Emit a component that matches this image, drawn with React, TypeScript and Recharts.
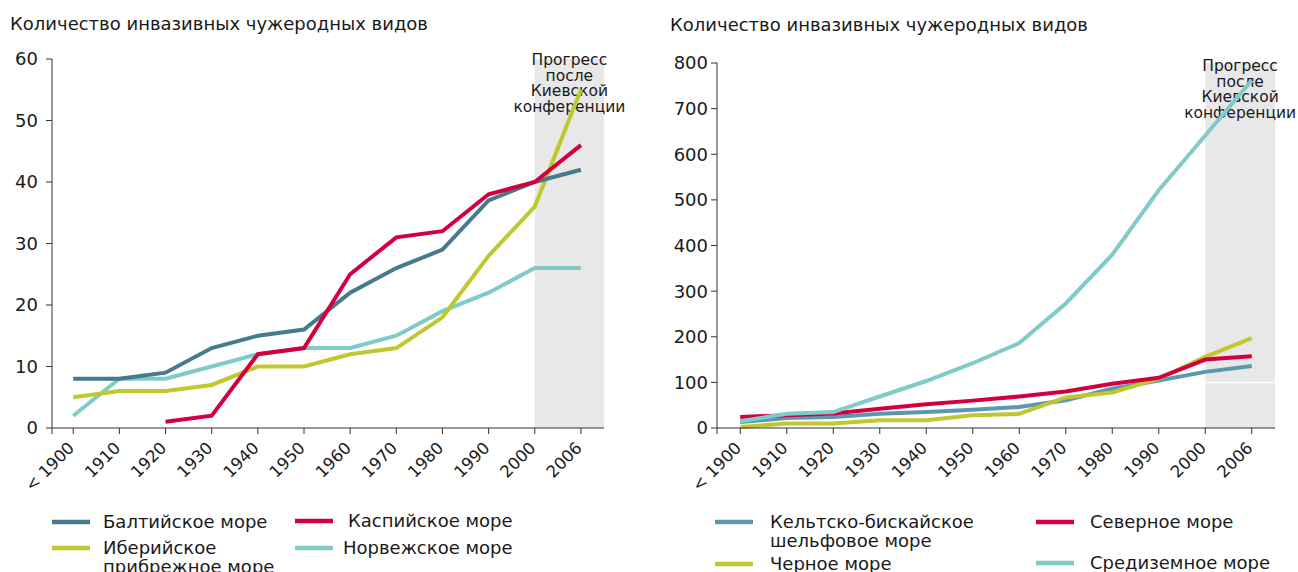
import { LineChart, Line, XAxis, YAxis, ReferenceArea, ReferenceLine } from 'recharts'

const YEARS = ['< 1900', '1910', '1920', '1930', '1940', '1950', '1960', '1970', '1980', '1990', '2000', '2006']

// left panel
const BALTIC = [8, 8, 9, 13, 15, 16, 22, 26, 29, 37, 40, 42]
const CASPIAN = [null, null, 1, 2, 12, 13, 25, 31, 32, 38, 40, 46]
const IBERIAN = [5, 6, 6, 7, 10, 10, 12, 13, 18, 28, 36, 55]
const NORWEGIAN = [2, 8, 8, 10, 12, 13, 13, 15, 19, 22, 26, 26]
const LEFT_TICKS = [0, 10, 20, 30, 40, 50, 60]

// right panel
const CELTIC = [13, 22, 24, 31, 35, 40, 46, 61, 86, 104, 123, 136]
const NORTH = [24, 28, 32, 42, 52, 60, 69, 80, 97, 110, 150, 157]
const BLACK = [2, 10, 10, 17, 17, 28, 31, 67, 78, 108, 156, 197]
const MEDITERRANEAN = [15, 31, 35, 69, 103, 142, 186, 273, 380, 521, 641, 762]
const RIGHT_TICKS = [0, 100, 200, 300, 400, 500, 600, 700, 800]

const TITLE = 'Количество инвазивных чужеродных видов'
const NOTE = ['Прогресс', 'после', 'Киевской', 'конференции']
const LEFT_NAMES = ['Балтийское море', 'Каспийское море', 'Иберийское прибрежное море', 'Норвежское море']
const RIGHT_NAMES = ['Кельтско-бискайское шельфовое море', 'Северное море', 'Черное море', 'Средиземное море']

const FONT = '"DejaVu Sans", Verdana, sans-serif'
const INK = '#1a1a1a'
const AXIS = '#333333'
const C = {
  baltic: '#477a8c',
  red: '#d2003f',
  green: '#bfc92e',
  aqua: '#80cbc7',
  celtic: '#5b98b0',
  shade: '#e8e8e8',
}

const leftData = YEARS.map((_, i) => ({
  idx: i,
  baltic: BALTIC[i],
  caspian: CASPIAN[i],
  iberian: IBERIAN[i],
  norwegian: NORWEGIAN[i],
}))

const rightData = YEARS.map((_, i) => ({
  idx: i,
  celtic: CELTIC[i],
  north: NORTH[i],
  black: BLACK[i],
  mediterranean: MEDITERRANEAN[i],
}))

const YearTick = ({ x, y, payload }: any) => {
  const label = YEARS[payload.value]
  if (label === undefined) return null
  const ex = x + 2
  const ey = y + 13
  return (
    <text
      x={ex}
      y={ey}
      transform={`rotate(-45 ${ex} ${ey})`}
      textAnchor="end"
      fontSize={16.5}
      fontFamily={FONT}
      fill={INK}
    >
      {label}
    </text>
  )
}

const Note = (offset: number) => (props: any) => {
  const vb = props.viewBox || {}
  const cx = vb.x + vb.width / 2
  return (
    <g>
      {NOTE.map((line, i) => (
        <text
          key={i}
          x={cx}
          y={vb.y + offset + i * 15.6}
          textAnchor="middle"
          fontSize={15.5}
          fontFamily={FONT}
          fill={INK}
        >
          {line}
        </text>
      ))}
    </g>
  )
}

const lineProps = {
  type: 'linear' as const,
  strokeWidth: 4,
  dot: false,
  activeDot: false,
  isAnimationActive: false,
}

function LeftChart() {
  return (
    <LineChart
      width={640}
      height={572}
      data={leftData}
      margin={{ top: 59, right: 36, bottom: 0, left: 0 }}
    >
      <XAxis
        type="number"
        dataKey="idx"
        domain={[-0.46, 11.5]}
        ticks={[-0.46, ...YEARS.map((_, i) => i)]}
        interval={0}
        height={144}
        tickSize={6}
        stroke={AXIS}
        tick={<YearTick />}
      />
      <YAxis
        domain={[0, 60]}
        ticks={LEFT_TICKS}
        width={52}
        tickSize={6}
        tickMargin={8}
        stroke={AXIS}
        tick={{ fontSize: 18, fill: INK, fontFamily: FONT }}
      />
      <ReferenceArea
        x1={10}
        x2={11.5}
        fill={C.shade}
        fillOpacity={1}
        stroke="none"
        label={Note(6)}
      />
      <Line {...lineProps} dataKey="norwegian" stroke={C.aqua} />
      <Line {...lineProps} dataKey="iberian" stroke={C.green} />
      <Line {...lineProps} dataKey="baltic" stroke={C.baltic} />
      <Line {...lineProps} dataKey="caspian" stroke={C.red} />
    </LineChart>
  )
}

function RightChart() {
  return (
    <LineChart
      width={648}
      height={572}
      data={rightData}
      margin={{ top: 63, right: 23, bottom: 0, left: 0 }}
    >
      <XAxis
        type="number"
        dataKey="idx"
        domain={[-0.5, 11.5]}
        ticks={[-0.5, ...YEARS.map((_, i) => i)]}
        interval={0}
        height={144}
        tickSize={6}
        stroke={AXIS}
        tick={<YearTick />}
      />
      <YAxis
        domain={[0, 800]}
        ticks={RIGHT_TICKS}
        width={67}
        tickSize={6}
        tickMargin={3}
        stroke={AXIS}
        tick={{ fontSize: 18, fill: INK, fontFamily: FONT }}
      />
      <ReferenceArea
        x1={10}
        x2={11.5}
        fill={C.shade}
        fillOpacity={1}
        stroke="none"
        label={Note(8)}
      />
      <ReferenceLine
        segment={[{ x: 10, y: 100 }, { x: 11.5, y: 100 }]}
        stroke="#ffffff"
        strokeWidth={1.5}
      />
      <Line {...lineProps} dataKey="celtic" stroke={C.celtic} />
      <Line {...lineProps} dataKey="black" stroke={C.green} />
      <Line {...lineProps} dataKey="north" stroke={C.red} />
      <Line {...lineProps} dataKey="mediterranean" stroke={C.aqua} />
    </LineChart>
  )
}

const LegendItem = ({ x, y, color, lines, tx }: any) => (
  <g>
    <line x1={x} x2={x + 38} y1={y} y2={y} stroke={color} strokeWidth={4.5} />
    {lines.map((t: string, i: number) => (
      <text key={i} x={tx} y={y + 6 + i * 19} fontSize={18} fontFamily={FONT} fill={INK}>
        {t}
      </text>
    ))}
  </g>
)

export default function App() {
  const [ib1, ib2] = [LEFT_NAMES[2].split(' ')[0], LEFT_NAMES[2].split(' ').slice(1).join(' ')]
  const [ce1, ce2] = [RIGHT_NAMES[0].split(' ')[0], RIGHT_NAMES[0].split(' ').slice(1).join(' ')]
  return (
    <div style={{ position: 'absolute', left: 0, top: 0, width: 1298, height: 572, background: '#fff', overflow: 'hidden' }}>
      <div style={{ position: 'absolute', left: 0, top: 0 }}>
        <LeftChart />
      </div>
      <div style={{ position: 'absolute', left: 650, top: 0 }}>
        <RightChart />
      </div>
      <svg
        width={1298}
        height={572}
        style={{ position: 'absolute', left: 0, top: 0, pointerEvents: 'none' }}
      >
        <text x={10} y={30} fontSize={18} fontFamily={FONT} fill={INK}>{TITLE}</text>
        <text x={670} y={31} fontSize={18} fontFamily={FONT} fill={INK}>{TITLE}</text>

        <LegendItem x={52} y={522} tx={103} color={C.baltic} lines={[LEFT_NAMES[0]]} />
        <LegendItem x={295} y={521} tx={348} color={C.red} lines={[LEFT_NAMES[1]]} />
        <LegendItem x={52} y={548} tx={103} color={C.green} lines={[ib1, ib2]} />
        <LegendItem x={295} y={548} tx={343} color={C.aqua} lines={[LEFT_NAMES[3]]} />

        <LegendItem x={715} y={522} tx={770} color={C.celtic} lines={[ce1, ce2]} />
        <LegendItem x={1036} y={522} tx={1090} color={C.red} lines={[RIGHT_NAMES[1]]} />
        <LegendItem x={715} y={564} tx={770} color={C.green} lines={[RIGHT_NAMES[2]]} />
        <LegendItem x={1036} y={563} tx={1090} color={C.aqua} lines={[RIGHT_NAMES[3]]} />
      </svg>
    </div>
  )
}
